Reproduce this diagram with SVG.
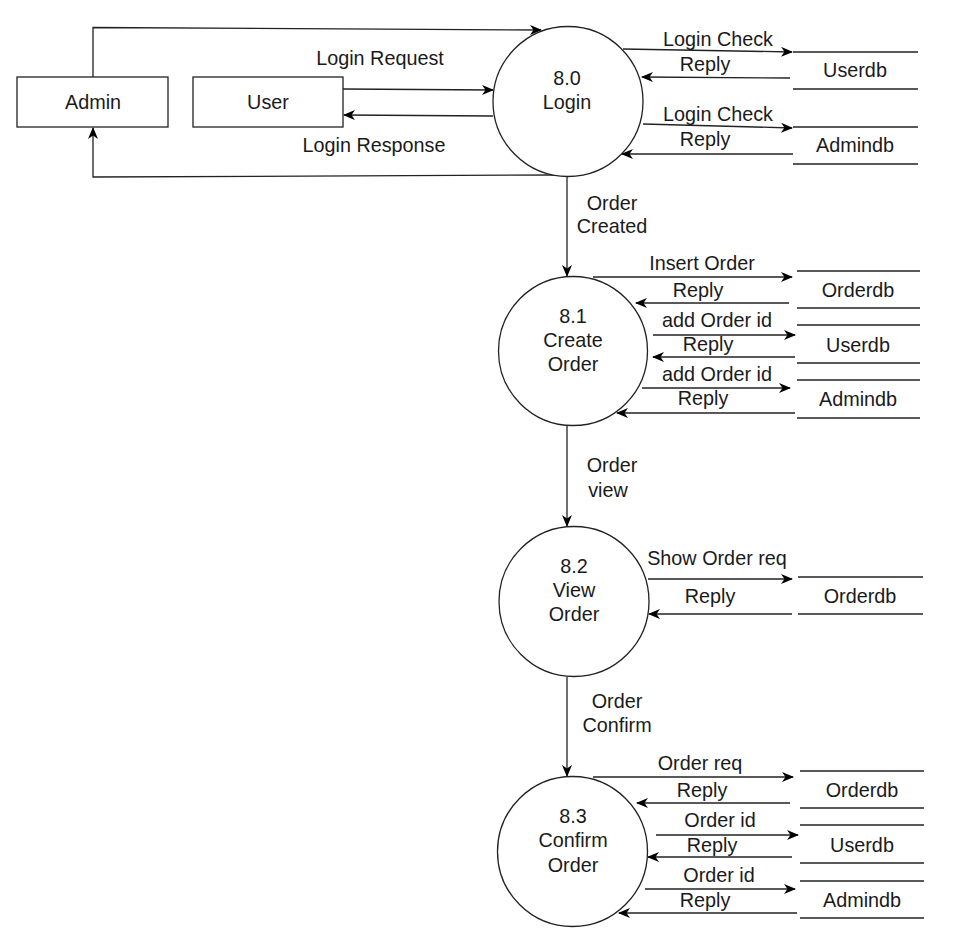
<svg xmlns="http://www.w3.org/2000/svg" width="962" height="943" viewBox="0 0 962 943">
  <defs>
    <marker id="arrow" viewBox="0 0 12 10" refX="11" refY="5" markerWidth="12" markerHeight="10" markerUnits="userSpaceOnUse" orient="auto">
      <path d="M0,0 L12,5 L0,10 L3.5,5 Z" fill="#000"/>
    </marker>
  </defs>
  <style>
    text { font-family: "Liberation Sans", Arial, sans-serif; font-size: 19.8px; fill: #1a1a1a; text-anchor: middle; }
    .box { fill: #fff; stroke: #222; stroke-width: 1.3; }
    .proc { fill: #fff; stroke: #222; stroke-width: 1.3; }
    .store line { stroke: #222; stroke-width: 1.3; }
    .flow { fill: none; stroke: #222; stroke-width: 1.3; marker-end: url(#arrow); }
    .plain { fill: none; stroke: #222; stroke-width: 1.3; }
  </style>
  <rect width="962" height="943" fill="#fff"/>

  <!-- connectors -->
  <g id="connectors">
    <!-- entities to login -->
    <path class="flow" d="M93,77 L93,27.5 L541,30"/>
    <path class="flow" d="M557,175 L93,177 L93,128"/>
    <path class="flow" d="M343,89 L493,90"/>
    <path class="flow" d="M493,116 L344,115"/>
    <!-- login to stores -->
    <path class="flow" d="M623,49 L792,52"/>
    <path class="flow" d="M790,78 L642,77"/>
    <path class="flow" d="M643,124 L792,128"/>
    <path class="flow" d="M793,154 L622,154"/>
    <!-- process chain -->
    <path class="flow" d="M567,176 L567,276"/>
    <path class="flow" d="M567,425 L567,526"/>
    <path class="flow" d="M567,677 L567,776"/>
    <!-- create order to stores -->
    <path class="flow" d="M593,277 L792,277"/>
    <path class="flow" d="M789,303 L636,303"/>
    <path class="flow" d="M653,335 L795,335"/>
    <path class="flow" d="M795,357 L653,357"/>
    <path class="flow" d="M642,388 L790,388"/>
    <path class="flow" d="M795,413 L617,413"/>
    <!-- view order to store -->
    <path class="flow" d="M648,579 L792,579"/>
    <path class="flow" d="M792,614 L649,614"/>
    <!-- confirm order to stores -->
    <path class="flow" d="M593,777 L793,777"/>
    <path class="flow" d="M790,803 L637,803"/>
    <path class="flow" d="M656,835 L798,835"/>
    <path class="flow" d="M792,857 L648,857"/>
    <path class="flow" d="M645,889 L795,889"/>
    <path class="flow" d="M797,913 L619,913"/>

    <!-- flow labels -->
    <text x="380" y="65">Login Request</text>
    <text x="374" y="152">Login Response</text>
    <text x="718" y="46">Login Check</text>
    <text x="705" y="71">Reply</text>
    <text x="718" y="121">Login Check</text>
    <text x="705" y="146">Reply</text>
    <text x="612" y="210">Order</text>
    <text x="612" y="233">Created</text>
    <text x="702" y="270">Insert Order</text>
    <text x="698" y="297">Reply</text>
    <text x="717" y="327">add Order id</text>
    <text x="708" y="351">Reply</text>
    <text x="717" y="381">add Order id</text>
    <text x="703" y="405">Reply</text>
    <text x="612" y="472">Order</text>
    <text x="608" y="497">view</text>
    <text x="717" y="565">Show Order req</text>
    <text x="710" y="603">Reply</text>
    <text x="617" y="708">Order</text>
    <text x="617" y="732">Confirm</text>
    <text x="700" y="770">Order req</text>
    <text x="702" y="797">Reply</text>
    <text x="720" y="827">Order id</text>
    <text x="712" y="852">Reply</text>
    <text x="719" y="882">Order id</text>
    <text x="705" y="907">Reply</text>
  </g>

  <!-- external entities -->
  <g id="admin">
    <rect class="box" x="17" y="77" width="151" height="50"/>
    <text x="93" y="109">Admin</text>
  </g>
  <g id="user">
    <rect class="box" x="193" y="77" width="150" height="50"/>
    <text x="268" y="109">User</text>
  </g>

  <!-- processes -->
  <g id="p80">
    <circle class="proc" cx="568" cy="101.5" r="75"/>
    <text x="567" y="85">8.0</text>
    <text x="567" y="109">Login</text>
  </g>
  <g id="p81">
    <circle class="proc" cx="573" cy="351" r="74.5"/>
    <text x="573" y="323">8.1</text>
    <text x="573" y="347">Create</text>
    <text x="573" y="371">Order</text>
  </g>
  <g id="p82">
    <circle class="proc" cx="574" cy="601.5" r="75"/>
    <text x="574" y="573">8.2</text>
    <text x="574" y="597">View</text>
    <text x="574" y="621">Order</text>
  </g>
  <g id="p83">
    <circle class="proc" cx="572.5" cy="851.5" r="75"/>
    <text x="573" y="823">8.3</text>
    <text x="573" y="847">Confirm</text>
    <text x="573" y="872">Order</text>
  </g>

  <!-- data stores -->
  <g id="store-userdb-1" class="store">
    <line x1="793" y1="52" x2="918" y2="52"/>
    <line x1="793" y1="89" x2="918" y2="89"/>
    <text x="855" y="77">Userdb</text>
  </g>
  <g id="store-admindb-1" class="store">
    <line x1="793" y1="127" x2="918" y2="127"/>
    <line x1="793" y1="164" x2="918" y2="164"/>
    <text x="855" y="152">Admindb</text>
  </g>
  <g id="store-orderdb-2" class="store">
    <line x1="797" y1="271" x2="920" y2="271"/>
    <line x1="797" y1="308" x2="920" y2="308"/>
    <text x="858" y="297">Orderdb</text>
  </g>
  <g id="store-userdb-2" class="store">
    <line x1="797" y1="325" x2="920" y2="325"/>
    <line x1="797" y1="363" x2="920" y2="363"/>
    <text x="858" y="352">Userdb</text>
  </g>
  <g id="store-admindb-2" class="store">
    <line x1="797" y1="380" x2="920" y2="380"/>
    <line x1="797" y1="418" x2="920" y2="418"/>
    <text x="858" y="406">Admindb</text>
  </g>
  <g id="store-orderdb-3" class="store">
    <line x1="798" y1="577" x2="923" y2="577"/>
    <line x1="798" y1="614" x2="923" y2="614"/>
    <text x="860" y="603">Orderdb</text>
  </g>
  <g id="store-orderdb-4" class="store">
    <line x1="800" y1="771" x2="924" y2="771"/>
    <line x1="800" y1="808" x2="924" y2="808"/>
    <text x="862" y="797">Orderdb</text>
  </g>
  <g id="store-userdb-4" class="store">
    <line x1="800" y1="825" x2="924" y2="825"/>
    <line x1="800" y1="863" x2="924" y2="863"/>
    <text x="862" y="852">Userdb</text>
  </g>
  <g id="store-admindb-4" class="store">
    <line x1="800" y1="881" x2="924" y2="881"/>
    <line x1="800" y1="918" x2="924" y2="918"/>
    <text x="862" y="907">Admindb</text>
  </g>
</svg>
